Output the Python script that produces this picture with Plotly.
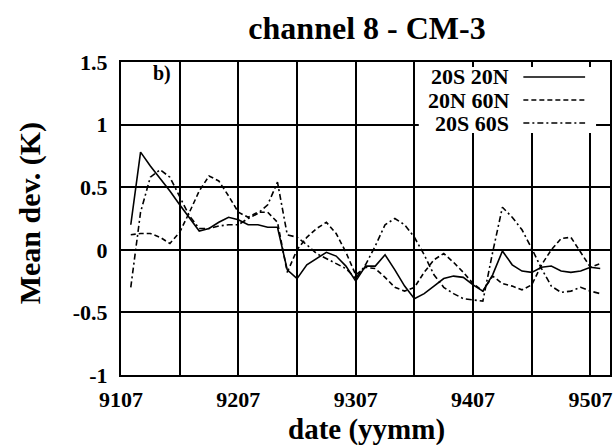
import plotly.graph_objects as go

# Monthly mean deviations (K), channel 8, CM-3, from 9108 to 9508
months = list(range(1, 50))  # months after 9107

tropics_20s_20n = [
    0.20, 0.78, 0.67, 0.57, 0.47, 0.36, 0.25, 0.15, 0.17, 0.22,
    0.26, 0.24, 0.20, 0.20, 0.18, 0.18, -0.16, -0.23, -0.12, -0.07,
    -0.02, -0.05, -0.13, -0.25, -0.13, -0.13, -0.04, -0.16, -0.29, -0.39,
    -0.35, -0.29, -0.23, -0.21, -0.22, -0.28, -0.33, -0.20, -0.01, -0.12,
    -0.17, -0.18, -0.14, -0.13, -0.17, -0.18, -0.17, -0.14, -0.15,
]
north_20n_60n = [
    0.12, 0.13, 0.13, 0.10, 0.05, 0.14, 0.30, 0.47, 0.59, 0.55,
    0.43, 0.30, 0.26, 0.30, 0.30, 0.22, -0.18, 0.00, 0.10, 0.17,
    0.22, 0.13, -0.02, -0.20, -0.14, -0.15, -0.22, -0.30, -0.33, -0.30,
    -0.18, -0.08, -0.03, -0.10, -0.18, -0.27, -0.33, -0.21, -0.27, -0.29,
    -0.32, -0.28, -0.12, 0.00, 0.09, 0.10, -0.02, -0.14, -0.11,
]
south_20s_60s = [
    -0.30, 0.30, 0.58, 0.64, 0.58, 0.42, 0.27, 0.17, 0.17, 0.19,
    0.20, 0.20, 0.25, 0.29, 0.36, 0.54, 0.12, 0.10, 0.04, -0.03,
    -0.07, -0.11, -0.15, -0.23, -0.12, 0.03, 0.20, 0.25, 0.20, 0.10,
    -0.04, -0.20, -0.30, -0.35, -0.39, -0.40, -0.41, -0.02, 0.34, 0.26,
    0.16, 0.01, -0.15, -0.29, -0.34, -0.33, -0.30, -0.33, -0.35,
]

series_names = ["20S 20N", "20N 60N", "20S 60S"]
series_dash = ["solid", "5px,3px", "6px,3px,2px,3px"]

tick_months = [0, 6, 12, 18, 24, 30, 36, 42, 48]
tick_labels = ["9107", "", "9207", "", "9307", "", "9407", "", "9507"]
y_ticks = [-1, -0.5, 0, 0.5, 1, 1.5]
y_labels = ["-1", "-0.5", "0", "0.5", "1", "1.5"]

SERIF = "Liberation Serif, Times New Roman, serif"

fig = go.Figure()
for name, values, dash in zip(series_names,
                              [tropics_20s_20n, north_20n_60n, south_20s_60s],
                              series_dash):
    fig.add_trace(go.Scatter(
        x=months, y=values, mode="lines", name=name,
        line=dict(color="black", width=1.6, dash=dash),
        showlegend=False,
    ))

fig.update_layout(
    width=616, height=445,
    margin=dict(l=121, r=4, t=62, b=70),
    paper_bgcolor="white", plot_bgcolor="white",
    font=dict(family=SERIF, color="black"),
    title=dict(
        text="<b>channel 8 - CM-3</b>",
        x=(367 / 616), xanchor="center",
        y=1 - 28 / 445, yanchor="middle",
        font=dict(size=32, family=SERIF, color="black"),
    ),
    xaxis=dict(
        range=[0, 50], tickmode="array",
        tickvals=tick_months, ticktext=[f"<b>{t}</b>" if t else "" for t in tick_labels],
        showgrid=True, gridcolor="black", gridwidth=1.5,
        zeroline=False, showline=True, linecolor="black", linewidth=2,
        mirror=True, ticks="", ticklabelstandoff=4,
        tickfont=dict(size=22, family=SERIF, color="black"),
    ),
    yaxis=dict(
        range=[-1, 1.5], tickmode="array",
        tickvals=y_ticks, ticktext=[f"<b>{t}</b>" for t in y_labels],
        showgrid=True, gridcolor="black", gridwidth=1.5,
        zeroline=False, showline=True, linecolor="black", linewidth=2,
        mirror=True, ticks="", ticklabelstandoff=7,
        tickfont=dict(size=22, family=SERIF, color="black"),
    ),
)

# Axis titles and panel tag
fig.add_annotation(text="<b>date (yymm)</b>", xref="paper", yref="paper",
                   x=(368 - 121) / 491, y=(375 - 429) / 313,
                   xanchor="center", yanchor="middle",
                   showarrow=False, font=dict(size=29, family=SERIF, color="black"))
fig.add_annotation(text="<b>Mean dev. (K)</b>", xref="paper", yref="paper",
                   x=(30 - 121) / 491, y=(375 - 213) / 313, textangle=-90,
                   xanchor="center", yanchor="middle",
                   showarrow=False, font=dict(size=30, family=SERIF, color="black"))
fig.add_annotation(text="<b>b)</b>", xref="paper", yref="paper",
                   x=(162 - 121) / 491, y=(375 - 73) / 313,
                   xanchor="center", yanchor="middle",
                   showarrow=False, font=dict(size=20, family=SERIF, color="black"))

# Key: white panel over the grid, labels on the left, line samples on the right
def px_x(p):
    return (p - 121) / 491

def px_y(p):
    return (375 - p) / 313

fig.add_shape(type="rect", xref="paper", yref="paper",
              x0=px_x(420), x1=px_x(598), y0=px_y(133), y1=px_y(67),
              fillcolor="white", line=dict(width=0), layer="above")
for i, (name, dash) in enumerate(zip(series_names, series_dash)):
    row_y = px_y(77 + 23 * i)
    fig.add_annotation(text=f"<b>{name}</b>", xref="paper", yref="paper",
                       x=px_x(513), y=row_y, xanchor="right", yanchor="middle",
                       showarrow=False, font=dict(size=22, family=SERIF, color="black"))
    fig.add_shape(type="line", xref="paper", yref="paper",
                  x0=px_x(525), x1=px_x(587), y0=row_y, y1=row_y,
                  line=dict(color="black", width=1.6, dash=dash), layer="above")

fig.write_html("out.html")
